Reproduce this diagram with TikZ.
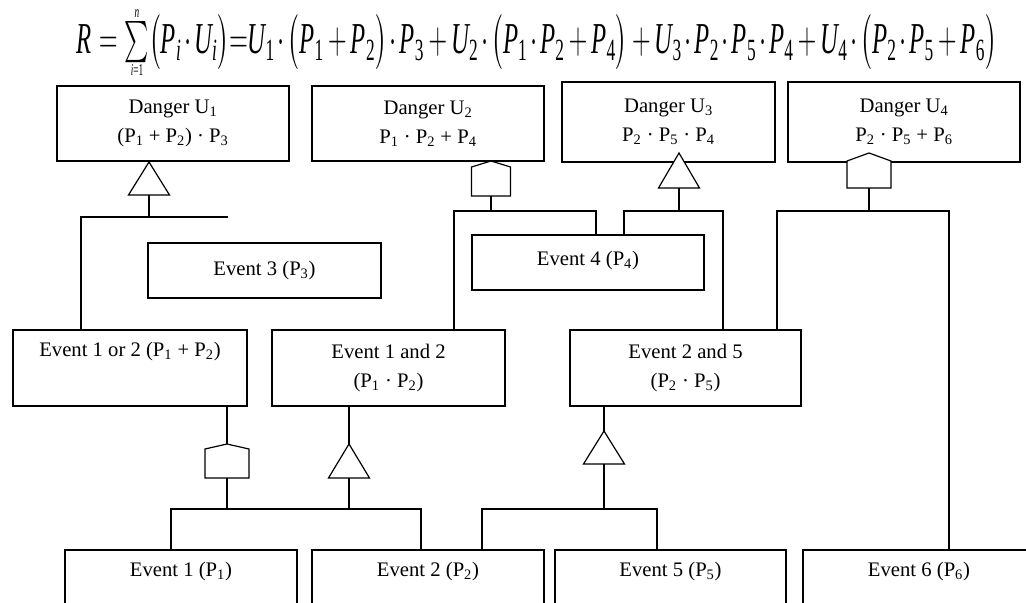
\documentclass[tikz,border=0pt]{standalone}
\usepackage{fontspec}
\usepackage{amsmath}
\usepackage{graphicx}
\setmainfont{Liberation Serif}
\newcommand{\sbs}[1]{\textsubscript{#1}}
\newcommand{\fv}[2]{\textit{#1}_{\text{#2}}}
\newcommand{\cd}{\mkern2mu{\cdot}\mkern2mu}
\newcommand{\pl}{\mkern3mu{+}\mkern3mu}
\newcommand{\mysum}{\mathop{\vcenter{\offinterlineskip\halign{\hfil##\hfil\cr
  {\fontsize{7.5}{7.5}\selectfont\textit{n}}\cr\noalign{\kern1.5pt}
  \scalebox{0.9}{$\textstyle\sum$}\cr\noalign{\kern0.8pt}
  {\fontsize{7.5}{7.5}\selectfont\textit{i}=1}\cr}}}}
\tikzset{
  box/.style={draw, line width=0.9pt, inner sep=0pt, align=center,
    font=\fontsize{15.5}{21.75}\selectfont},
  wire/.style={line width=0.9pt},
  gate/.style={draw, line width=0.9pt, fill=white, line join=miter},
}
% AND gate: name, cx, apex y, base y
\newcommand{\andg}[4]{%
  \draw[gate] (#2,#3) -- ({#2+20.5},#4) -- ({#2-20.5},#4) -- cycle;
  \coordinate (#1t) at (#2,#3); \coordinate (#1b) at (#2,#4);}
% OR gate: name, cx, half width, apex y, shoulder y, bottom y
\newcommand{\org}[6]{%
  \draw[gate] (#2,#4) -- ({#2+#3},#5) -- ({#2+#3},#6) -- ({#2-#3},#6) -- ({#2-#3},#5) -- cycle;
  \coordinate (#1t) at (#2,#4); \coordinate (#1b) at (#2,#6);}
\begin{document}
\begin{tikzpicture}[x=0.75pt,y=-0.75pt]
\useasboundingbox (0,0) rectangle (1026,603);
\clip (0,0) rectangle (1026,603);

% formula
\node[inner sep=0pt, anchor=center] (F) at (537,42.5) {\resizebox*{690pt}{48.75pt}{\fontsize{20}{20}\selectfont$\textstyle
  \textit{R}\mkern5mu{=}\mkern2mu\mysum\bigl(\fv{P}{\textit{i}}\cd\fv{U}{\textit{i}}\bigr){=}
  \fv{U}{1}\cd\bigl(\fv{P}{1}\pl\fv{P}{2}\bigr)\cd\fv{P}{3}\pl
  \fv{U}{2}\cd\bigl(\fv{P}{1}\cd\fv{P}{2}\pl\fv{P}{4}\bigr)\pl
  \fv{U}{3}\cd\fv{P}{2}\cd\fv{P}{5}\cd\fv{P}{4}\pl
  \fv{U}{4}\cd\bigl(\fv{P}{2}\cd\fv{P}{5}\pl\fv{P}{6}\bigr)$}};

% top events
\node[box, minimum width=174pt, minimum height=56.25pt] (U1) at (173,123.5)
  {Danger U\sbs{1}\\(P\sbs{1} + P\sbs{2}) · P\sbs{3}};
\node[box, minimum width=174pt, minimum height=56.25pt] (U2) at (428,123.5)
  {Danger U\sbs{2}\\P\sbs{1} · P\sbs{2} + P\sbs{4}};
\node[box, minimum width=159.75pt, minimum height=60pt] (U3) at (668.5,122)
  {Danger U\sbs{3}\\P\sbs{2} · P\sbs{5} · P\sbs{4}};
\node[box, minimum width=174pt, minimum height=60pt] (U4) at (904,122)
  {Danger U\sbs{4}\\P\sbs{2} · P\sbs{5} + P\sbs{6}};

% middle events
\node[box, minimum width=174.75pt, minimum height=41.25pt] (E3) at (264.5,270.5)
  {Event 3 (P\sbs{3})};
\node[box, minimum width=174pt, minimum height=41.25pt, text depth=6pt] (E4) at (588,262.5)
  {Event 4 (P\sbs{4})};
\node[box, minimum width=175.5pt, minimum height=57pt] (E12or) at (130,368)
  {Event 1 or 2 (P\sbs{1} + P\sbs{2})\\\strut};
\node[box, minimum width=174.75pt, minimum height=57pt] (E12and) at (388.5,368)
  {Event 1 and 2\\(P\sbs{1} · P\sbs{2})};
\node[box, minimum width=173.25pt, minimum height=57pt] (E25) at (685.5,368)
  {Event 2 and 5\\(P\sbs{2} · P\sbs{5})};

% basic events
\node[box, minimum width=174pt, minimum height=57pt] (E1) at (181,588)
  {Event 1 (P\sbs{1})\\\strut};
\node[box, minimum width=174pt, minimum height=57pt] (E2) at (428,588)
  {Event 2 (P\sbs{2})\\\strut};
\node[box, minimum width=173.25pt, minimum height=57pt] (E5) at (670.5,588)
  {Event 5 (P\sbs{5})\\\strut};
\node[box, minimum width=174pt, minimum height=57pt] (E6) at (919,588)
  {Event 6 (P\sbs{6})\\\strut};

% gates
\andg{GA}{149}{162}{195}
\org{GB}{491}{19.5}{161}{167}{196}
\andg{GC}{679}{153}{188}
\org{GD}{869}{22}{153}{161}{188}
\org{GE}{227}{22}{444}{449}{478}
\andg{GF}{349}{444}{478}
\andg{GG}{604}{431}{464}

% bars
\coordinate (b1) at (149,217); \coordinate (b1L) at (81,217); \coordinate (b1R) at (228,217);
\coordinate (b2) at (491,211); \coordinate (b2L) at (454,211); \coordinate (b2R) at (596,211);
\coordinate (b3) at (679,211); \coordinate (b3L) at (624,211); \coordinate (b3R) at (723,211);
\coordinate (b4) at (869,211); \coordinate (b4L) at (777,211); \coordinate (b4R) at (949,211);
\coordinate (b5) at (227,509); \coordinate (b5L) at (171,509); \coordinate (b5R) at (421,509);
\coordinate (b5m) at (349,509);
\coordinate (b6) at (604,509); \coordinate (b6L) at (482,509); \coordinate (b6R) at (657,509);

% U1 branch
\draw[wire] (GAb) -- (b1);
\draw[wire] (b1R) -- (b1L) -- (b1L |- E12or.north);
% U2 branch
\draw[wire] (GBb) -- (b2);
\draw[wire] (b2L |- E12and.north) -- (b2L) -- (b2R) -- (b2R |- E4.north);
% U3 branch
\draw[wire] (GCb) -- (b3);
\draw[wire] (b3L |- E4.north) -- (b3L) -- (b3R) -- (b3R |- E25.north);
% U4 branch
\draw[wire] (GDb) -- (b4);
\draw[wire] (b4L |- E25.north) -- (b4L) -- (b4R) -- (b4R |- E6.north);
% lower gates
\draw[wire] (E12or.south -| GEt) -- (GEt);
\draw[wire] (GEb) -- (b5);
\draw[wire] (E12and.south -| GFt) -- (GFt);
\draw[wire] (GFb) -- (b5m);
\draw[wire] (b5L |- E1.north) -- (b5L) -- (b5R) -- (b5R |- E2.north);
\draw[wire] (E25.south -| GGt) -- (GGt);
\draw[wire] (GGb) -- (b6);
\draw[wire] (b6L |- E2.north) -- (b6L) -- (b6R) -- (b6R |- E5.north);
\end{tikzpicture}
\end{document}
